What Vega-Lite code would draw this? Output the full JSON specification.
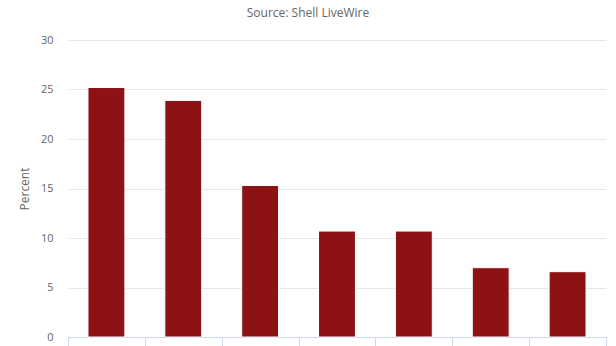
{
  "$schema": "https://vega.github.io/schema/vega-lite/v6.json",
  "width": 538,
  "height": 297,
  "autosize": {"type": "none"},
  "padding": {"left": 68, "top": 40, "right": 10, "bottom": 9},
  "background": "white",
  "title": {
    "text": "Source: Shell LiveWire",
    "fontSize": 12,
    "font": "Open Sans",
    "fontWeight": "normal",
    "color": "#666666",
    "anchor": "middle",
    "dx": -29,
    "offset": 14
  },
  "config": {
    "view": {"stroke": null},
    "font": "Open Sans"
  },
  "data": {
    "values": [
      {"category": "Finance", "percent": 25.2},
      {"category": "Confidence", "percent": 23.9},
      {"category": "Skills", "percent": 15.3},
      {"category": "Advice", "percent": 10.7},
      {"category": "Contacts", "percent": 10.7},
      {"category": "Premises", "percent": 7.0},
      {"category": "Other", "percent": 6.6}
    ]
  },
  "mark": {"type": "bar", "color": "#8c1214", "stroke": "white", "strokeWidth": 1, "width": {"band": 0.48}},
  "encoding": {
    "x": {
      "field": "category",
      "type": "nominal",
      "sort": null,
      "scale": {"paddingInner": 0, "paddingOuter": 0},
      "axis": {
        "title": null,
        "labels": false,
        "tickBand": "extent",
        "domainColor": "#ccd6eb",
        "tickColor": "#ccd6eb",
        "tickSize": 12
      }
    },
    "y": {
      "field": "percent",
      "type": "quantitative",
      "scale": {"domain": [0, 30], "nice": false},
      "axis": {
        "title": "Percent",
        "titleColor": "#666666",
        "titleFontSize": 12,
        "titleFontWeight": "normal",
        "titlePadding": 9,
        "values": [0, 5, 10, 15, 20, 25, 30],
        "domain": false,
        "ticks": false,
        "labelColor": "#666666",
        "labelFontSize": 11,
        "labelPadding": 15,
        "gridColor": "#e6e6e6",
        "gridWidth": 1
      }
    }
  }
}
